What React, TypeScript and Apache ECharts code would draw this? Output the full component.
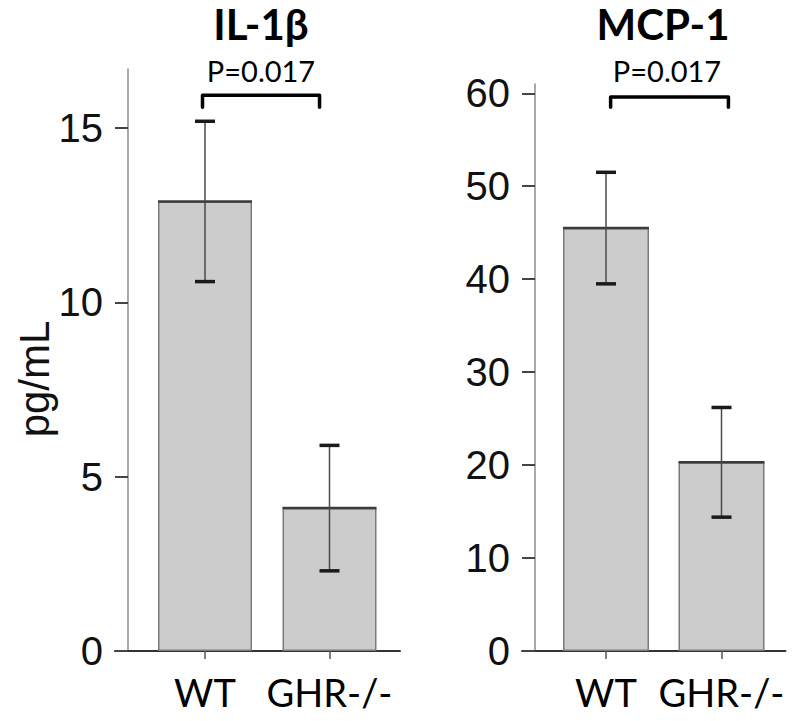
import React, { useEffect, useRef } from 'react';
import * as echarts from 'echarts';

const categories = ['WT', 'GHR-/-'];
const il1bMean = [12.9, 4.1];
const il1bErr = [2.3, 1.8];
const mcp1Mean = [45.5, 20.3];
const mcp1Err = [6.0, 5.9];

const il1bTicks = [0, 5, 10, 15];
const mcp1Ticks = [0, 10, 20, 30, 40, 50, 60];
const il1bMax = 16.7;
const mcp1Max = 61;

const titles = ['IL-1β', 'MCP-1'];
const pLabels = ['P=0.017', 'P=0.017'];
// bracket: [top value, foot value]
const il1bBracket = [15.95, 15.6];
const mcp1Bracket = [59.6, 58.5];
// bracket ends as fractions between the two category centres
const il1bBracketX = [-0.02, 0.92];
const mcp1BracketX = [0.04, 1.06];

const tickFont = 'Liberation Sans';
const textFont = 'Lato';

function errorRender(barWidth: number) {
  return (params: any, api: any) => {
    const i = api.value(0);
    const m = api.value(1);
    const e = api.value(2);
    const top = api.coord([i, m + e]);
    const bot = api.coord([i, m - e]);
    const mid = api.coord([i, m]);
    const x = mid[0];
    const cap = 10;
    return {
      type: 'group',
      children: [
        { type: 'line', shape: { x1: x - barWidth / 2, y1: mid[1], x2: x + barWidth / 2, y2: mid[1] }, style: { stroke: '#3c3c3c', lineWidth: 2.5 } },
        { type: 'line', shape: { x1: x, y1: top[1], x2: x, y2: bot[1] }, style: { stroke: '#4a4a4a', lineWidth: 1.5 } },
        { type: 'line', shape: { x1: x - cap, y1: top[1], x2: x + cap, y2: top[1] }, style: { stroke: '#1a1a1a', lineWidth: 3.5 } },
        { type: 'line', shape: { x1: x - cap, y1: bot[1], x2: x + cap, y2: bot[1] }, style: { stroke: '#1a1a1a', lineWidth: 3.5 } },
      ],
    };
  };
}

function bracketRender(fr: number[]) {
  return (params: any, api: any) => {
    const t = api.value(1);
    const f = api.value(2);
    const p0 = api.coord([0, t]);
    const p1 = api.coord([1, t]);
    const fy = api.coord([0, f])[1];
    const xl = p0[0] + fr[0] * (p1[0] - p0[0]);
    const xr = p0[0] + fr[1] * (p1[0] - p0[0]);
    return {
      type: 'polyline',
      shape: { points: [[xl, fy], [xl, p0[1]], [xr, p0[1]], [xr, fy]] },
      style: { stroke: '#000', lineWidth: 3.5, fill: 'none', lineJoin: 'round', lineCap: 'round' },
    };
  };
}

function catAxis(gridIndex: number) {
  return {
    gridIndex,
    type: 'category',
    data: categories,
    axisLine: { show: false },
    axisTick: { show: true, alignWithLabel: true, length: 8, lineStyle: { color: '#555', width: 1.5 } },
    axisLabel: { interval: 0, hideOverlap: false, margin: 22, fontSize: 38, fontFamily: textFont, color: '#000' },
    splitLine: { show: false },
  };
}

function baseAxis(gridIndex: number) {
  return {
    gridIndex,
    type: 'value',
    min: 0,
    max: 1,
    axisLine: { show: true, onZero: false, lineStyle: { color: '#333', width: 2 } },
    axisTick: { show: false },
    axisLabel: { show: false },
    splitLine: { show: false },
  };
}

function valAxis(gridIndex: number, max: number, ticks: number[], offset: number) {
  return {
    gridIndex,
    type: 'value',
    min: 0,
    max,
    offset,
    axisLine: { show: true, lineStyle: { color: '#8c8c8c', width: 1.5 } },
    axisTick: { show: true, length: 13, customValues: ticks, lineStyle: { color: '#444', width: 2 } },
    axisLabel: { margin: 25, customValues: ticks, fontSize: 40, fontFamily: tickFont, color: '#111' },
    splitLine: { show: false },
  };
}

export default function App() {
  const ref = useRef<HTMLDivElement>(null);
  useEffect(() => {
    if (!ref.current) return;
    const chart = echarts.init(ref.current, undefined, { renderer: 'svg' });
    const option: any = {
      animation: false,
      backgroundColor: '#fff',
      title: [
        { text: titles[0], left: 261, top: 3, textAlign: 'center', padding: 0, textStyle: { fontFamily: textFont, fontWeight: 'bold', fontSize: 42, color: '#000' } },
        { text: titles[1], left: 663, top: 3, textAlign: 'center', padding: 0, textStyle: { fontFamily: textFont, fontWeight: 'bold', fontSize: 42, color: '#000' } },
        { text: pLabels[0], left: 261, top: 56, textAlign: 'center', padding: 0, textStyle: { fontFamily: textFont, fontWeight: 'normal', fontSize: 29, color: '#000' } },
        { text: pLabels[1], left: 667, top: 56, textAlign: 'center', padding: 0, textStyle: { fontFamily: textFont, fontWeight: 'normal', fontSize: 29, color: '#000' } },
      ],
      graphic: [
        { type: 'text', x: 34, y: 379, rotation: Math.PI / 2, style: { text: 'pg/mL', fontFamily: tickFont, fontSize: 42, fill: '#111', align: 'center', verticalAlign: 'middle' } },
      ],
      grid: [
        { left: 142.75, top: 69, width: 249, height: 582 },
        { left: 115, top: 69, width: 285, height: 582 },
        { left: 548.25, top: 84, width: 231, height: 567 },
        { left: 522, top: 84, width: 263.5, height: 567 },
      ],
      xAxis: [catAxis(0), baseAxis(1), catAxis(2), baseAxis(3)],
      yAxis: [
        valAxis(0, il1bMax, il1bTicks, 14.75),
        { gridIndex: 1, type: 'value', show: false, min: 0, max: 1 },
        valAxis(2, mcp1Max, mcp1Ticks, 13.25),
        { gridIndex: 3, type: 'value', show: false, min: 0, max: 1 },
      ],
      series: [
        {
          type: 'bar', xAxisIndex: 0, yAxisIndex: 0, barWidth: 94, data: il1bMean,
          itemStyle: { color: '#cccccc', borderColor: '#7a7a7a', borderWidth: 1.5 },
        },
        {
          type: 'custom', xAxisIndex: 0, yAxisIndex: 0, z: 5, renderItem: errorRender(94),
          encode: { x: 0, y: 1 },
          data: il1bMean.map((m, i) => [i, m, il1bErr[i]]),
        },
        {
          type: 'custom', xAxisIndex: 0, yAxisIndex: 0, z: 5, renderItem: bracketRender(il1bBracketX),
          encode: { x: 0, y: 1 },
          data: [[0, il1bBracket[0], il1bBracket[1]]],
        },
        {
          type: 'bar', xAxisIndex: 2, yAxisIndex: 2, barWidth: 86, data: mcp1Mean,
          itemStyle: { color: '#cccccc', borderColor: '#7a7a7a', borderWidth: 1.5 },
        },
        {
          type: 'custom', xAxisIndex: 2, yAxisIndex: 2, z: 5, renderItem: errorRender(86),
          encode: { x: 0, y: 1 },
          data: mcp1Mean.map((m, i) => [i, m, mcp1Err[i]]),
        },
        {
          type: 'custom', xAxisIndex: 2, yAxisIndex: 2, z: 5, renderItem: bracketRender(mcp1BracketX),
          encode: { x: 0, y: 1 },
          data: [[0, mcp1Bracket[0], mcp1Bracket[1]]],
        },
      ],
    };
    chart.setOption(option);
    return () => chart.dispose();
  }, []);
  return <div ref={ref} style={{ position: 'fixed', left: 0, top: 0, width: 792, height: 721 }} />;
}
